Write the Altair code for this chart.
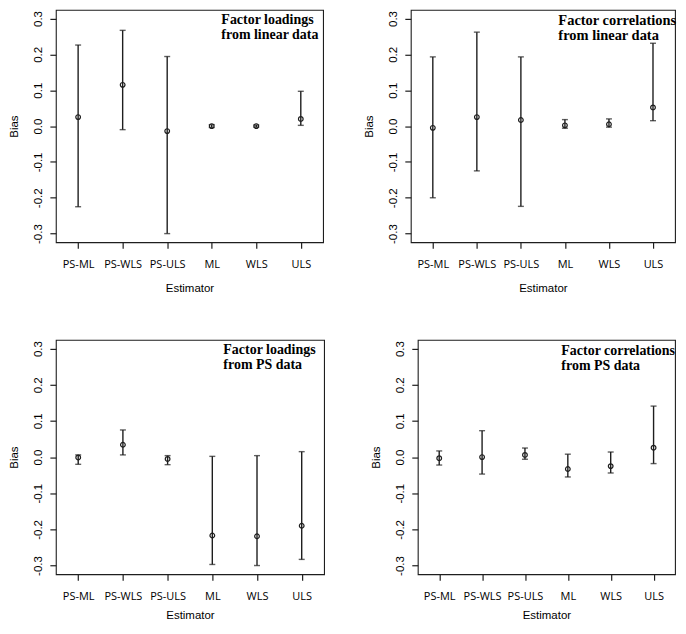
import altair as alt
import pandas as pd

estimators = ["PS-ML", "PS-WLS", "PS-ULS", "ML", "WLS", "ULS"]
y_ticks = [-0.3, -0.2, -0.1, 0.0, 0.1, 0.2, 0.3]

# Factor loadings from linear data
p1_est = [0.025, 0.115, -0.014, 0.000, 0.000, 0.020]
p1_lo = [-0.225, -0.010, -0.300, -0.004, -0.003, 0.002]
p1_hi = [0.226, 0.267, 0.194, 0.004, 0.003, 0.097]

# Factor correlations from linear data
p2_est = [-0.005, 0.025, 0.017, 0.002, 0.005, 0.052]
p2_lo = [-0.200, -0.125, -0.224, -0.006, -0.003, 0.015]
p2_hi = [0.193, 0.262, 0.193, 0.018, 0.020, 0.231]

# Factor loadings from PS data
p3_est = [-0.001, 0.034, -0.005, -0.217, -0.219, -0.190]
p3_lo = [-0.020, 0.006, -0.021, -0.297, -0.300, -0.283]
p3_hi = [0.006, 0.075, 0.004, 0.002, 0.004, 0.015]

# Factor correlations from PS data
p4_est = [-0.003, 0.000, 0.006, -0.033, -0.025, 0.026]
p4_lo = [-0.022, -0.047, -0.006, -0.055, -0.044, -0.018]
p4_hi = [0.017, 0.073, 0.025, 0.008, 0.014, 0.141]

titles = [
    ["Factor loadings", "from linear data"],
    ["Factor correlations", "from linear data"],
    ["Factor loadings", "from PS data"],
    ["Factor correlations", "from PS data"],
]

INK = "#1e1e1e"


def panel(est, lo, hi, lines, w, h, text_dx, text_fs, text_y, xlab_pad, xtitle_pad):
    df = pd.DataFrame({"Estimator": estimators, "est": est, "lo": lo, "hi": hi})
    xax = alt.Axis(
        labelAngle=0, labelFont="Open Sans", labelFontSize=11, labelColor="black",
        labelPadding=xlab_pad, tickSize=6, tickColor=INK, tickWidth=1.2, domain=False,
        grid=False, title="Estimator", titleFont="Liberation Sans", titleFontSize=11.5,
        titleFontWeight="normal", titleColor="black", titlePadding=xtitle_pad,
        labelOverlap=False,
    )
    yax = alt.Axis(
        values=y_ticks,
        labelExpr="(datum.value < 0 ? '-' : '') + format(abs(datum.value), '.1f')",
        labelAngle=270, labelAlign="center", labelBaseline="bottom",
        labelFont="Liberation Sans", labelFontSize=11.5, labelColor="black",
        labelPadding=6, tickSize=6, tickColor=INK, tickWidth=1.2, domain=False,
        grid=False, title="Bias", titleFont="Liberation Sans", titleFontSize=11.5,
        titleFontWeight="normal", titleColor="black", titlePadding=13,
        labelOverlap=False, labelFlush=False,
    )
    xs = alt.Scale(type="point", padding=0.5, domain=estimators)
    ys = alt.Scale(domain=[-0.324, 0.324], nice=False, zero=False)
    X = alt.X("Estimator:N", sort=estimators, scale=xs, axis=xax)
    base = alt.Chart(df)
    rule = base.mark_rule(color=INK, strokeWidth=1.4).encode(
        x=X, y=alt.Y("lo:Q", scale=ys, axis=yax), y2="hi:Q")
    cap_lo = base.mark_tick(color=INK, size=6, thickness=1.4, orient="horizontal").encode(
        x=X, y=alt.Y("lo:Q", scale=ys, axis=yax))
    cap_hi = base.mark_tick(color=INK, size=6, thickness=1.4, orient="horizontal").encode(
        x=X, y=alt.Y("hi:Q", scale=ys, axis=yax))
    pts = base.mark_point(shape="circle", filled=False, size=22, color=INK,
                          strokeWidth=1.2, opacity=1).encode(
        x=X, y=alt.Y("est:Q", scale=ys, axis=yax))
    txt = alt.Chart(pd.DataFrame({"k": [0]})).mark_text(
        text=lines, align="left", baseline="alphabetic", font="Liberation Serif",
        fontWeight="bold", fontSize=text_fs, lineHeight=15, color="black",
    ).encode(x=alt.value(w - text_dx), y=alt.value(text_y))
    return alt.layer(rule, cap_lo, cap_hi, pts, txt).properties(width=w, height=h)


p1 = panel(p1_est, p1_lo, p1_hi, titles[0], 268, 233, 102, 14, 14, 10, 13)
p2 = panel(p2_est, p2_lo, p2_hi, titles[1], 265, 233, 117, 14.5, 15, 10, 13)
p3 = panel(p3_est, p3_lo, p3_hi, titles[2], 269, 235, 101, 14, 14, 10, 8)
p4 = panel(p4_est, p4_lo, p4_hi, titles[3], 258, 235, 114, 14, 15, 10, 8)

row1 = alt.hconcat(p1, p2, spacing=39)
row2 = alt.hconcat(p3, p4, spacing=45)

chart = alt.vconcat(row1, row2, spacing=44).properties(
    padding=0, background="white"
).configure_view(stroke=INK, strokeWidth=1.1)

chart.save("out.html", embed_options={"renderer": "svg", "actions": False})
